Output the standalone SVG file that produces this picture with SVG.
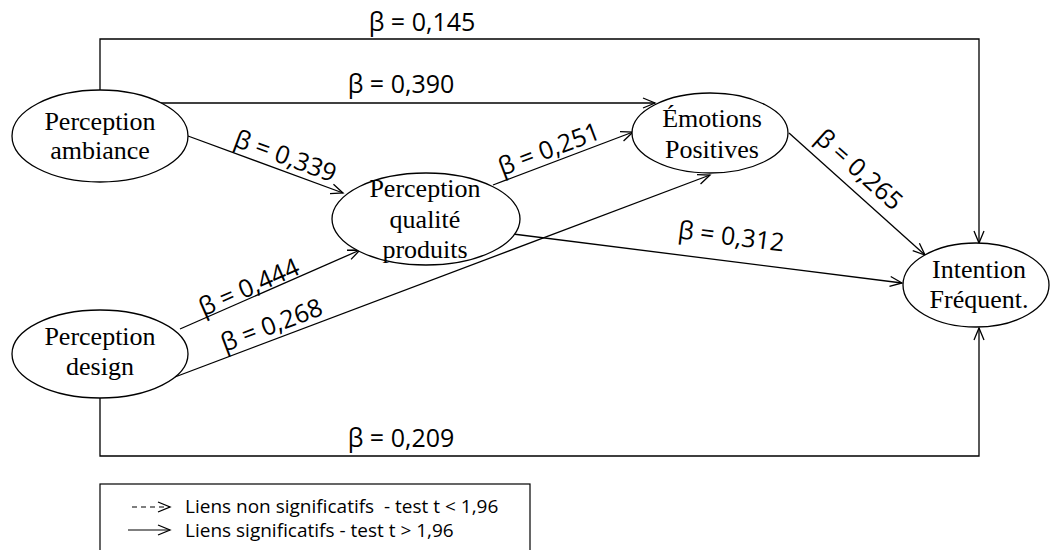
<svg xmlns="http://www.w3.org/2000/svg" width="1050" height="550" viewBox="0 0 1050 550">
  <style>
    .node ellipse { fill: #fff; stroke: #000; stroke-width: 1.3; }
    .node text { font-family: "Liberation Serif", "Times New Roman", serif; font-size: 26px; fill: #000; text-anchor: middle; }
    .edge { fill: none; stroke: #000; stroke-width: 1.3; marker-end: url(#arrow); }
    .beta { font-family: "Open Sans", "Liberation Sans", sans-serif; font-size: 25px; fill: #000; text-anchor: middle; }
    .legend text { font-family: "Open Sans", "Liberation Sans", sans-serif; font-size: 19px; fill: #000; white-space: pre; }
  </style>
  <defs>
    <marker id="arrow" markerUnits="userSpaceOnUse" markerWidth="16" markerHeight="14" refX="0" refY="0" viewBox="-14 -7 16 14" orient="auto" overflow="visible">
      <path d="M-12,-5 L0,0 L-12,5" fill="none" stroke="#000" stroke-width="1.3"/>
    </marker>
  </defs>
  <rect width="1050" height="550" fill="#fff"/>

  <!-- connectors -->
  <g id="connectors">
    <path class="edge" d="M100,90 V39 H979 V243"/>
    <path class="edge" d="M161,103 H655"/>
    <path class="edge" d="M188,136 L343,193"/>
    <path class="edge" d="M493,185 L633,132"/>
    <path class="edge" d="M180,329 L360,250"/>
    <path class="edge" d="M167,380 L710,175"/>
    <path class="edge" d="M789,133 L925,255"/>
    <path class="edge" d="M513,234 L902,283"/>
    <path class="edge" d="M100,398 V456 H979 V328"/>
  </g>

  <!-- path coefficients -->
  <g id="labels">
    <text class="beta" x="422" y="31">β = 0,145</text>
    <text class="beta" x="401" y="93">β = 0,390</text>
    <text class="beta" x="401" y="447">β = 0,209</text>
    <text class="beta" transform="translate(284.5,158.5) rotate(20.2)" y="6">β = 0,339</text>
    <text class="beta" transform="translate(550,151.5) rotate(-20.7)" y="6">β = 0,251</text>
    <text class="beta" transform="translate(250,289.5) rotate(-23.7)" y="6">β = 0,444</text>
    <text class="beta" transform="translate(272.5,327.5) rotate(-20.7)" y="6">β = 0,268</text>
    <text class="beta" transform="translate(857.5,171.5) rotate(41.9)" y="6">β = 0,265</text>
    <text class="beta" transform="translate(731,239) rotate(7.2)" y="6">β = 0,312</text>
  </g>

  <!-- constructs -->
  <g id="ambiance" class="node">
    <ellipse cx="100" cy="136" rx="88" ry="46"/>
    <text x="100" y="130">Perception</text>
    <text x="100" y="159">ambiance</text>
  </g>
  <g id="design" class="node">
    <ellipse cx="100" cy="354" rx="88" ry="44"/>
    <text x="100" y="345">Perception</text>
    <text x="100" y="375">design</text>
  </g>
  <g id="qualite" class="node">
    <ellipse cx="426" cy="219" rx="94" ry="46"/>
    <text x="425" y="197">Perception</text>
    <text x="425" y="228">qualité</text>
    <text x="425" y="258">produits</text>
  </g>
  <g id="emotions" class="node">
    <ellipse cx="710" cy="133" rx="78" ry="40"/>
    <text x="712" y="127">Émotions</text>
    <text x="712" y="158">Positives</text>
  </g>
  <g id="intention" class="node">
    <ellipse cx="976" cy="285" rx="73" ry="42"/>
    <text x="979" y="278">Intention</text>
    <text x="979" y="308">Fréquent.</text>
  </g>

  <!-- legend -->
  <g id="legend" class="legend">
    <rect x="100" y="484" width="430" height="80" fill="#fff" stroke="#000" stroke-width="1.2"/>
    <path d="M132,507 H170" fill="none" stroke="#000" stroke-width="1.1" stroke-dasharray="5,4" marker-end="url(#arrow)"/>
    <path d="M128,530 H170" fill="none" stroke="#000" stroke-width="1.1" marker-end="url(#arrow)"/>
    <text x="185" y="513" xml:space="preserve">Liens non significatifs  - test t &lt; 1,96</text>
    <text x="185" y="537">Liens significatifs - test t &gt; 1,96</text>
  </g>
</svg>
